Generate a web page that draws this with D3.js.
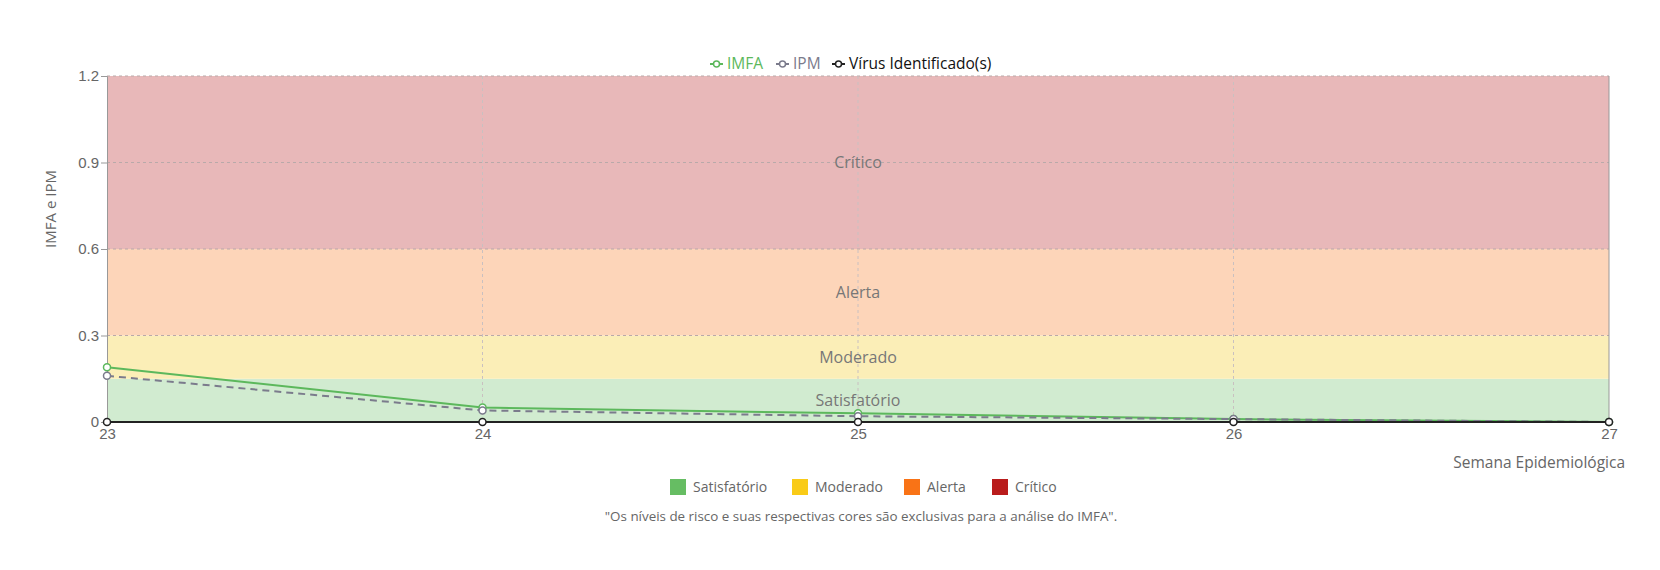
<!DOCTYPE html>
<html>
<head>
<meta charset="utf-8">
<script src="https://cdn.jsdelivr.net/npm/d3@7"></script>
<style>
  body { margin: 0; background: #fff; font-family: "Open Sans", "Noto Sans", sans-serif; }
</style>
</head>
<body>
<div id="chart"></div>
<script>
// weeks and series values
const weeks = [23, 24, 25, 26, 27];
const imfa = [0.19, 0.05, 0.03, 0.01, 0];
const ipm = [0.16, 0.04, 0.02, 0.01, 0];
const virus = [0, 0, 0, 0, 0];
const yTicks = [0, 0.3, 0.6, 0.9, 1.2];

// risk levels
const levelNames = ["Satisfatório", "Moderado", "Alerta", "Crítico"];
const levelFrom = [0, 0.15, 0.3, 0.6];
const levelTo = [0.15, 0.3, 0.6, 1.2];
const levelColors = ["#66bd63", "#f9cb18", "#f97316", "#b91c1c"];
const levelFills = ["#d1ebd0", "#fbeeb7", "#fdd5b9", "#e8b8b9"];

const width = 1660, height = 570;
const margin = { top: 76, right: 51, bottom: 148, left: 107 };
const textGray = "#666";

const svg = d3.select("#chart").append("svg")
  .attr("width", width)
  .attr("height", height);

const x = d3.scaleLinear().domain([23, 27]).range([margin.left, width - margin.right]);
const y = d3.scaleLinear().domain([0, 1.2]).range([height - margin.bottom, margin.top]);

// bands
svg.append("g").selectAll("rect")
  .data(levelNames)
  .join("rect")
  .attr("x", x(23))
  .attr("width", x(27) - x(23))
  .attr("y", (d, i) => y(levelTo[i]))
  .attr("height", (d, i) => y(levelFrom[i]) - y(levelTo[i]))
  .attr("fill", (d, i) => levelFills[i]);

// grid
svg.append("g").selectAll("line.h")
  .data(yTicks.slice(1))
  .join("line")
  .attr("x1", x(23)).attr("x2", x(27))
  .attr("y1", d => y(d)).attr("y2", d => y(d))
  .attr("stroke", "#b9a9a9").attr("stroke-dasharray", "3,3").attr("stroke-width", 1);

svg.append("g").selectAll("line.v")
  .data(weeks.slice(1, -1))
  .join("line")
  .attr("x1", d => x(d)).attr("x2", d => x(d))
  .attr("y1", y(1.2)).attr("y2", y(0))
  .attr("stroke", "#c9c0c0").attr("stroke-dasharray", "3,3").attr("stroke-width", 1);

// band labels
svg.append("g").selectAll("text")
  .data(levelNames)
  .join("text")
  .attr("x", x(25))
  .attr("y", (d, i) => y((levelFrom[i] + levelTo[i]) / 2))
  .attr("dy", "0.35em")
  .attr("text-anchor", "middle")
  .style("font-size", "16px")
  .style("fill", "#777")
  .text(d => d);

// axes
const yAxis = svg.append("g")
  .attr("transform", `translate(${x(23)},0)`)
  .call(d3.axisLeft(y).tickValues(yTicks).tickFormat(d => d === 0 ? "0" : d3.format(".1f")(d)).tickSize(6));
yAxis.select(".domain").attr("stroke", "#999");
yAxis.selectAll(".tick line").attr("stroke", "#999");
yAxis.selectAll("text").style("font-size", "15px").style("fill", textGray).attr("x", -8);

const xAxis = svg.append("g")
  .attr("transform", `translate(0,${y(0)})`)
  .call(d3.axisBottom(x).tickValues(weeks).tickFormat(d3.format("d")).tickSize(0));
xAxis.select(".domain").remove();
xAxis.selectAll("text").style("font-size", "15px").style("fill", textGray).attr("dy", "0.95em");

// right border
svg.append("line")
  .attr("x1", x(27)).attr("x2", x(27))
  .attr("y1", y(1.2)).attr("y2", y(0))
  .attr("stroke", "#999");

// axis titles
svg.append("text")
  .attr("transform", `translate(56,209) rotate(-90)`)
  .attr("text-anchor", "middle")
  .style("font-size", "15px")
  .style("fill", textGray)
  .text("IMFA e IPM");

svg.append("text")
  .attr("x", 1625)
  .attr("y", 468)
  .attr("text-anchor", "end")
  .style("font-size", "15.5px")
  .style("fill", textGray)
  .text("Semana Epidemiológica");

// series
const series = [
  { name: "IMFA", values: imfa, color: "#5cb85c", dash: null, text: "#5cb85c" },
  { name: "IPM", values: ipm, color: "#7b7b8c", dash: "7,5", text: "#7b7b8c" },
  { name: "Vírus Identificado(s)", values: virus, color: "#222", dash: null, text: "#111" }
];

const line = d3.line().x((d, i) => x(weeks[i])).y(d => y(d));

series.forEach(s => {
  svg.append("path")
    .datum(s.values)
    .attr("d", line)
    .attr("fill", "none")
    .attr("stroke", s.color)
    .attr("stroke-width", 2)
    .attr("stroke-dasharray", s.dash);
  svg.append("g").selectAll("circle")
    .data(s.values)
    .join("circle")
    .attr("cx", (d, i) => x(weeks[i]))
    .attr("cy", d => y(d))
    .attr("r", 3.5)
    .attr("fill", "#fff")
    .attr("stroke", s.color)
    .attr("stroke-width", 1.5);
});

// top legend
const legendX = [710, 776, 832];
const topLegend = svg.append("g").attr("transform", "translate(0,64)");
series.forEach((s, i) => {
  const g = topLegend.append("g").attr("transform", `translate(${legendX[i]},0)`);
  g.append("line").attr("x1", 0).attr("x2", 13).attr("stroke", s.color).attr("stroke-width", 2);
  g.append("circle").attr("cx", 6.5).attr("r", 3).attr("fill", "#fff").attr("stroke", s.color).attr("stroke-width", 1.5);
  g.append("text").attr("x", 17).attr("dy", "0.35em")
    .style("font-size", "15.5px").style("fill", s.text).text(s.name);
});

// bottom legend
const bottomX = [670, 792, 904, 992];
const bottomLegend = svg.append("g").attr("transform", "translate(0,487)");
levelNames.forEach((name, i) => {
  const g = bottomLegend.append("g").attr("transform", `translate(${bottomX[i]},0)`);
  g.append("rect").attr("x", 0).attr("y", -8).attr("width", 16).attr("height", 16).attr("fill", levelColors[i]);
  g.append("text").attr("x", 23).attr("dy", "0.35em")
    .style("font-size", "14px").style("fill", textGray).text(name);
});

svg.append("text")
  .attr("x", 861)
  .attr("y", 516)
  .attr("dy", "0.35em")
  .attr("text-anchor", "middle")
  .style("font-size", "13.4px")
  .style("fill", textGray)
  .text("\"Os níveis de risco e suas respectivas cores são exclusivas para a análise do IMFA\".");
</script>
</body>
</html>
